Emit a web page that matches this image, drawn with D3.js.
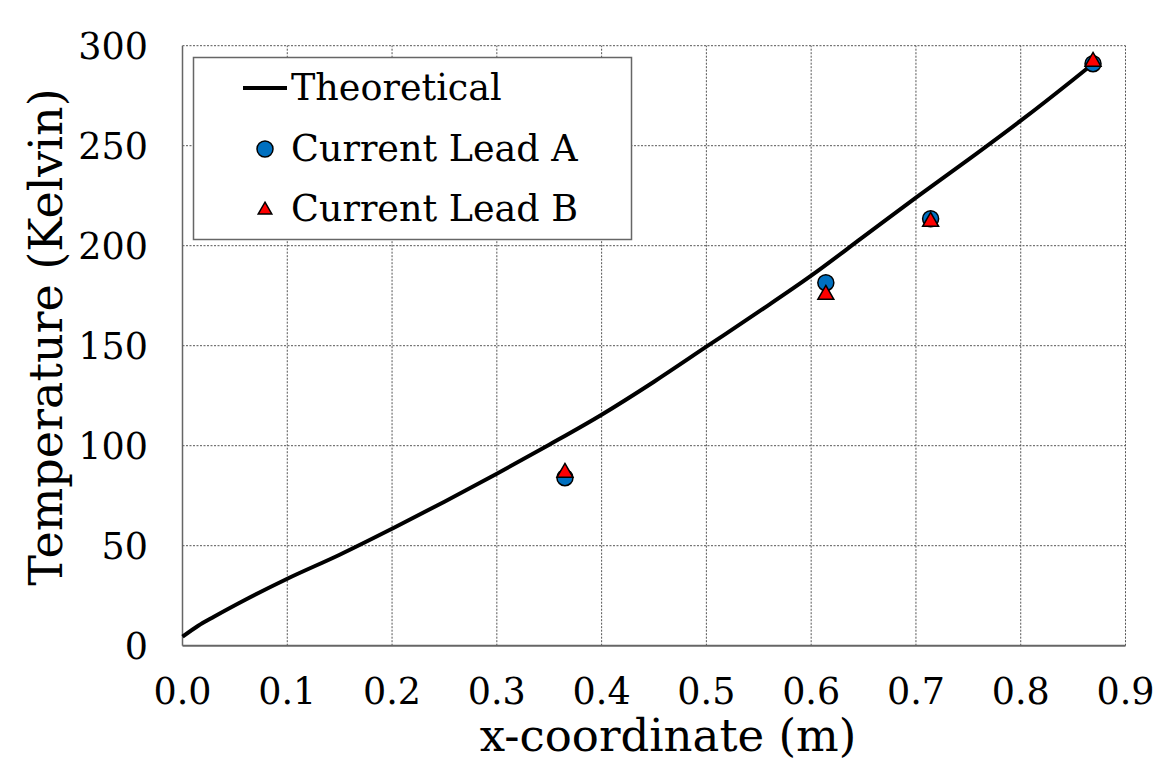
<!DOCTYPE html>
<html>
<head>
<meta charset="utf-8">
<script src="https://cdn.jsdelivr.net/npm/d3@7"></script>
<style>
  body { margin: 0; background: #fff; }
  text { font-family: "DejaVu Serif", "Liberation Serif", serif; fill: #000; }
</style>
</head>
<body>
<svg id="chart" width="1156" height="764"></svg>
<script>
// theoretical curve
const theoryX = [0, 0.015, 0.03, 0.06, 0.1, 0.15, 0.2, 0.25, 0.3, 0.35, 0.4, 0.45, 0.5, 0.55, 0.6, 0.65, 0.7, 0.75, 0.8, 0.85, 0.869];
const theoryT = [4.5, 10, 14.5, 23, 33.5, 45.5, 58.5, 72, 86, 100.5, 115.5, 132, 149.5, 167, 185, 204.5, 224, 243, 262.5, 283, 291];

// measured points
const leadX = [0.365, 0.614, 0.714, 0.869];
const leadA = [84, 181.5, 213.5, 291];
const leadB = [86.5, 175.5, 212, 292];

const xTicks = [0, 0.1, 0.2, 0.3, 0.4, 0.5, 0.6, 0.7, 0.8, 0.9];
const yTicks = [0, 50, 100, 150, 200, 250, 300];

const margin = {left: 182.5, right: 30.5, top: 45.7, bottom: 118.3};
const W = 1156, H = 764;

const svg = d3.select("#chart");

const x = d3.scaleLinear().domain([0, 0.9]).range([margin.left, W - margin.right]);
const y = d3.scaleLinear().domain([0, 300]).range([H - margin.bottom, margin.top]);

// grid
svg.append("g").selectAll("line")
  .data(xTicks.slice(1, -1))
  .join("line")
    .attr("x1", d => x(d)).attr("x2", d => x(d))
    .attr("y1", y(0)).attr("y2", y(300))
    .attr("stroke", "#555").attr("stroke-width", 1)
    .attr("stroke-dasharray", "2,1.5");

svg.append("g").selectAll("line")
  .data(yTicks.slice(1, -1))
  .join("line")
    .attr("x1", x(0)).attr("x2", x(0.9))
    .attr("y1", d => y(d)).attr("y2", d => y(d))
    .attr("stroke", "#555").attr("stroke-width", 1)
    .attr("stroke-dasharray", "2,1.5");

// frame: solid left/bottom, dashed top/right
svg.append("line").attr("x1", x(0)).attr("x2", x(0)).attr("y1", y(0)).attr("y2", y(300))
  .attr("stroke", "#666").attr("stroke-width", 1.5);
svg.append("line").attr("x1", x(0)).attr("x2", x(0.9)).attr("y1", y(0)).attr("y2", y(0))
  .attr("stroke", "#666").attr("stroke-width", 2);
svg.append("line").attr("x1", x(0)).attr("x2", x(0.9)).attr("y1", y(300)).attr("y2", y(300))
  .attr("stroke", "#555").attr("stroke-width", 1).attr("stroke-dasharray", "2,1.5");
svg.append("line").attr("x1", x(0.9)).attr("x2", x(0.9)).attr("y1", y(0)).attr("y2", y(300))
  .attr("stroke", "#555").attr("stroke-width", 1).attr("stroke-dasharray", "2,1.5");

// tick labels
svg.append("g").selectAll("text")
  .data(xTicks)
  .join("text")
    .attr("x", d => x(d))
    .attr("y", 704)
    .attr("text-anchor", "middle")
    .attr("font-size", 36.5)
    .text(d => d.toFixed(1));

svg.append("g").selectAll("text")
  .data(yTicks)
  .join("text")
    .attr("x", 148)
    .attr("y", d => y(d) + 13)
    .attr("text-anchor", "end")
    .attr("font-size", 36.5)
    .text(d => d);

// axis titles
svg.append("text")
  .attr("x", 668).attr("y", 751)
  .attr("text-anchor", "middle")
  .attr("font-size", 45)
  .text("x-coordinate (m)");

svg.append("text")
  .attr("transform", "translate(62,337) rotate(-90)")
  .attr("text-anchor", "middle")
  .attr("font-size", 46)
  .text("Temperature (Kelvin)");

// theoretical line
const theory = theoryX.map((d, i) => ({x: d, t: theoryT[i]}));
svg.append("path")
  .datum(theory)
  .attr("fill", "none")
  .attr("stroke", "#000")
  .attr("stroke-width", 4)
  .attr("d", d3.line().x(d => x(d.x)).y(d => y(d.t)).curve(d3.curveMonotoneX));

// markers
const tri = d3.symbol().type(d3.symbolTriangle).size(110);

svg.append("g").selectAll("circle")
  .data(leadX.map((d, i) => ({x: d, t: leadA[i]})))
  .join("circle")
    .attr("cx", d => x(d.x)).attr("cy", d => y(d.t))
    .attr("r", 8)
    .attr("fill", "#0070C0")
    .attr("stroke", "#000").attr("stroke-width", 1.5);

svg.append("g").selectAll("path")
  .data(leadX.map((d, i) => ({x: d, t: leadB[i]})))
  .join("path")
    .attr("d", tri)
    .attr("transform", d => "translate(" + x(d.x) + "," + y(d.t) + ")")
    .attr("fill", "#FF0000")
    .attr("stroke", "#000").attr("stroke-width", 1.5);

// legend
const lg = svg.append("g");
lg.append("rect")
  .attr("x", 193.5).attr("y", 57.5).attr("width", 438).attr("height", 182)
  .attr("fill", "#fff").attr("stroke", "#666").attr("stroke-width", 1.5);
lg.append("line").attr("x1", 243).attr("x2", 287).attr("y1", 88).attr("y2", 88)
  .attr("stroke", "#000").attr("stroke-width", 4);
lg.append("text").attr("x", 291).attr("y", 100).attr("font-size", 36.5).text("Theoretical");
lg.append("circle").attr("cx", 265).attr("cy", 149).attr("r", 8)
  .attr("fill", "#0070C0").attr("stroke", "#000").attr("stroke-width", 1.5);
lg.append("text").attr("x", 291).attr("y", 161).attr("font-size", 36.5).text("Current Lead A");
lg.append("path").attr("d", d3.symbol().type(d3.symbolTriangle).size(80))
  .attr("transform", "translate(265,210)")
  .attr("fill", "#FF0000").attr("stroke", "#000").attr("stroke-width", 1.5);
lg.append("text").attr("x", 291).attr("y", 221).attr("font-size", 36.5).text("Current Lead B");
</script>
</body>
</html>
